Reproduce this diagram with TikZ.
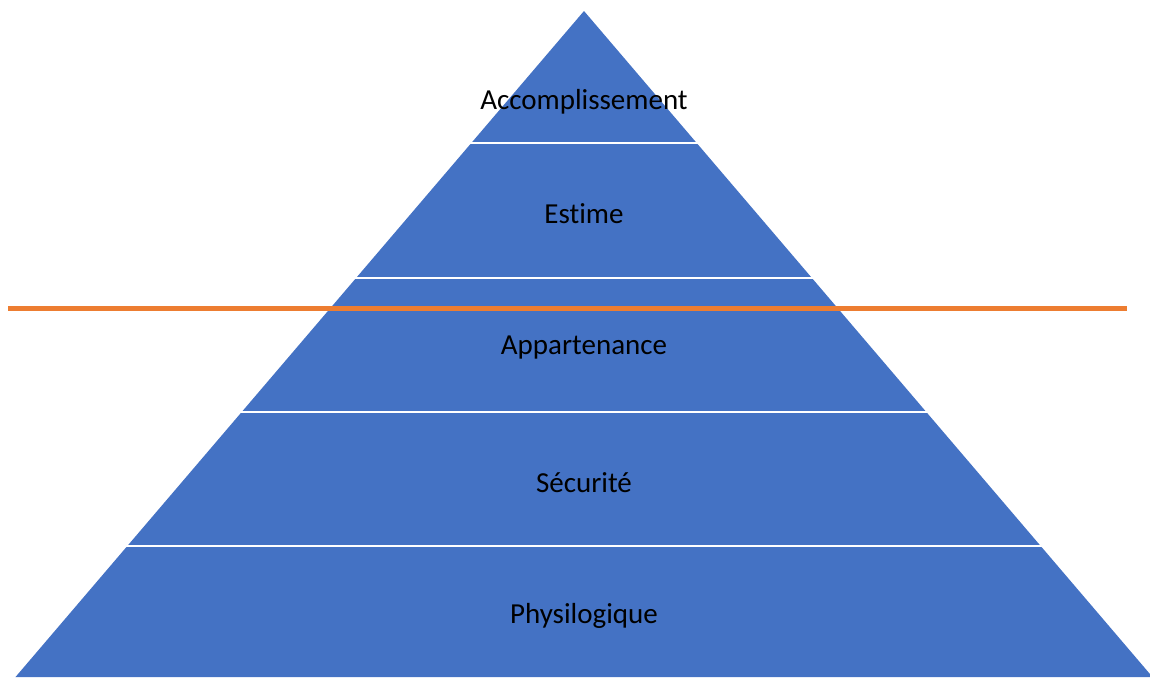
\documentclass[tikz,border=0pt]{standalone}
\usepackage{fontspec}
\setmainfont{Carlito}[Ligatures={NoCommon}]

\definecolor{layer blue}{HTML}{4472C4}
\definecolor{cut orange}{HTML}{ED7D31}
\def\slope{0.8536}
\tikzset{layer/.style={fill=layer blue},
    gap/.style={draw=white, line width=1.5pt},
    cutline/.style={draw=cut orange, line width=2.8pt},
    levelname/.style={font=\fontsize{16.5}{20}\selectfont, text=black}}

\begin{document}
\begin{tikzpicture}[x=0.02cm, y=-0.02cm]
    \useasboundingbox (0,0) rectangle (1150,677);
    % the five levels, apex at (584,11)
    \foreach \top/\bot in {11/143, 143/278, 278/412, 412/546, 546/677} {
        \fill[layer] ({584-(\top-11)*\slope},\top) -- ({584+(\top-11)*\slope},\top)
                  -- ({584+(\bot-11)*\slope},\bot) -- ({584-(\bot-11)*\slope},\bot) -- cycle;
    }
    \foreach \y in {143, 278, 412, 546}
        \draw[gap] ({584-(\y-11)*\slope-2},\y) -- ({584+(\y-11)*\slope+2},\y);
    \node[levelname] (accomplissement) at (584,102) {Accomplissement};
    \node[levelname] (estime) at (584,214) {Estime};
    \node[levelname] (appartenance) at (584,348) {Appartenance};
    \node[levelname] (securite) at (584,483) {Sécurité};
    \node[levelname] (physio) at (584,616) {Physilogique};
    % horizontal cut
    \coordinate (cut west) at (8,308.5);
    \coordinate (cut east) at (1127,308.5);
    \draw[cutline] (cut west) -- (cut east);
\end{tikzpicture}
\end{document}
